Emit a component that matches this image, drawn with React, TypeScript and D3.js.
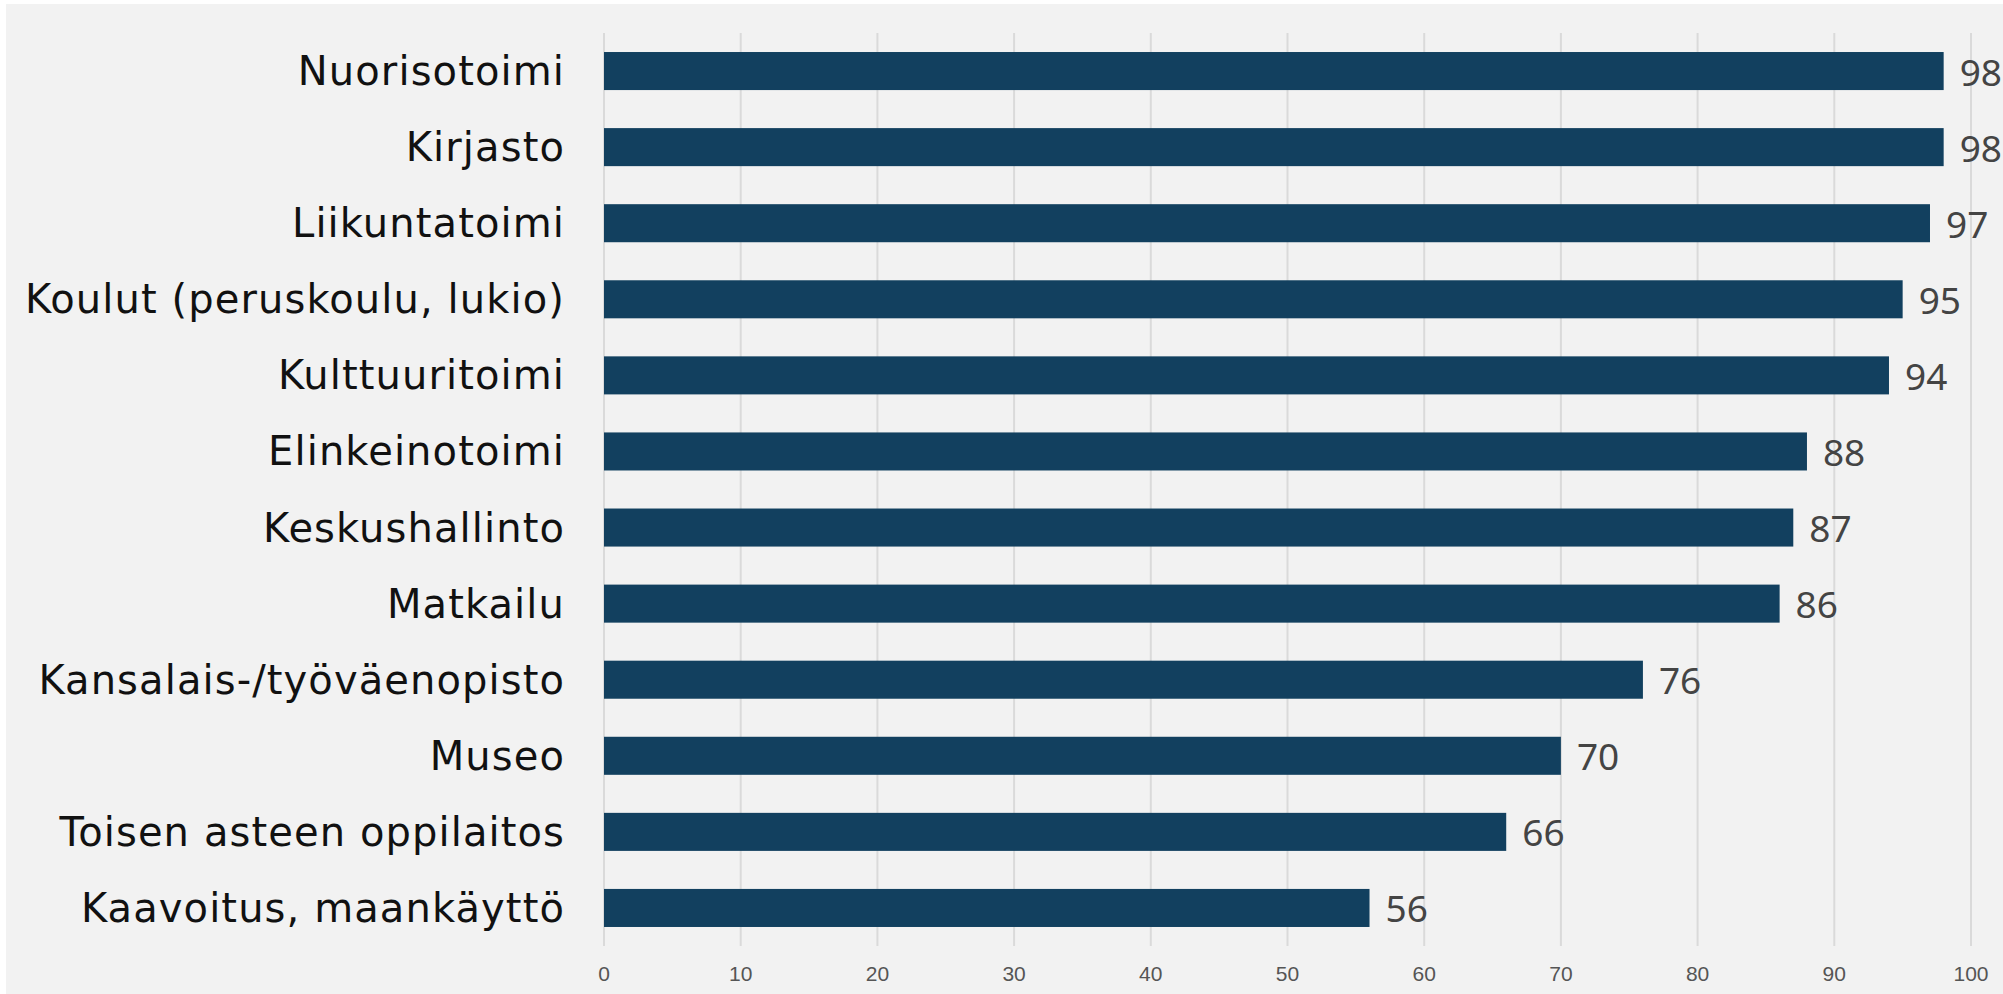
import React from 'react';
import * as d3 from 'd3';

const categories = [
  'Nuorisotoimi',
  'Kirjasto',
  'Liikuntatoimi',
  'Koulut (peruskoulu, lukio)',
  'Kulttuuritoimi',
  'Elinkeinotoimi',
  'Keskushallinto',
  'Matkailu',
  'Kansalais-/työväenopisto',
  'Museo',
  'Toisen asteen oppilaitos',
  'Kaavoitus, maankäyttö',
];
const values = [98, 98, 97, 95, 94, 88, 87, 86, 76, 70, 66, 56];
const ticks = [0, 10, 20, 30, 40, 50, 60, 70, 80, 90, 100];

const W = 2003;
const H = 994;

export default function App() {
  const x = d3.scaleLinear().domain([0, 100]).range([604, 1971]);
  const y = d3
    .scaleBand<string>()
    .domain(categories)
    .range([33, 946])
    .paddingInner(0.5)
    .paddingOuter(0.25);

  return (
    <div style={{ position: 'absolute', left: 0, top: 0 }}>
      <svg width={W} height={H} style={{ display: 'block' }}>
        <rect x={0} y={0} width={W} height={H} fill="#ffffff" />
        <rect x={6} y={4} width={W - 6} height={H - 4} fill="#f2f2f2" />

        {/* gridlines */}
        {ticks.map((t) => (
          <line
            key={'g' + t}
            x1={x(t)}
            x2={x(t)}
            y1={33}
            y2={946}
            stroke="#dadada"
            strokeWidth={2}
          />
        ))}

        {/* bars */}
        {categories.map((c, i) => (
          <rect
            key={'b' + c}
            x={x(0)}
            y={y(c)}
            width={x(values[i]) - x(0)}
            height={y.bandwidth()}
            fill="#12405f"
          />
        ))}

        {/* category labels */}
        {categories.map((c) => (
          <text
            key={'l' + c}
            x={565}
            y={(y(c) || 0) + y.bandwidth() / 2}
            textAnchor="end"
            dominantBaseline="central"
            fontFamily="'DejaVu Sans', sans-serif"
            fontSize={40}
            letterSpacing={1.1}
            fill="#111111"
          >
            {c}
          </text>
        ))}

        {/* value labels */}
        {categories.map((c, i) => (
          <text
            key={'v' + c}
            x={x(values[i]) + 16}
            y={(y(c) || 0) + y.bandwidth() / 2}
            dominantBaseline="central"
            fontFamily="'Noto Sans', sans-serif"
            fontSize={37}
            fill="#444444"
          >
            {values[i]}
          </text>
        ))}

        {/* x tick labels */}
        {ticks.map((t) => (
          <text
            key={'t' + t}
            x={x(t)}
            y={973}
            textAnchor="middle"
            dominantBaseline="central"
            fontFamily="'Liberation Sans', Arial, sans-serif"
            fontSize={21}
            fill="#555555"
          >
            {t}
          </text>
        ))}
      </svg>
    </div>
  );
}
